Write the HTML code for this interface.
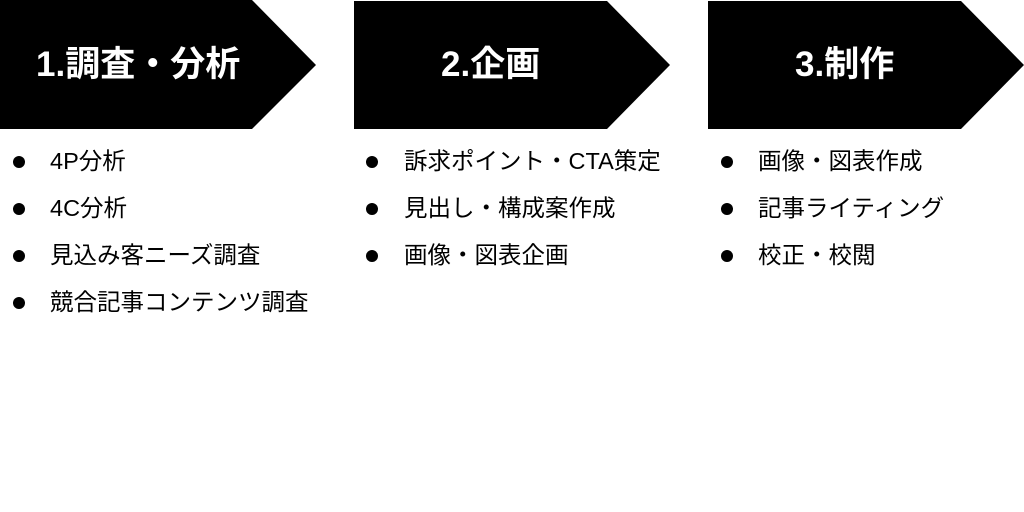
<!DOCTYPE html>
<html><head><meta charset="utf-8"><style>
body{margin:0;width:1024px;height:512px;background:#fff;overflow:hidden;position:relative;font-family:"Liberation Sans","Noto Sans CJK JP",sans-serif}
.t{position:absolute;color:#fff;font-weight:bold;font-size:35px;line-height:1;top:47px}
.li{position:absolute;font-size:23.5px;line-height:1;color:#000;white-space:nowrap}
.b{position:absolute;width:12px;height:12px;border-radius:50%;background:#000}
</style></head><body>
<svg width="1024" height="512" style="position:absolute;left:0;top:0">
<polygon points="0,0 252,0 316,65 252,129 0,129" fill="#000"/>
<polygon points="354,1 607,1 670,65 607,129 354,129" fill="#000"/>
<polygon points="708,1 961,1 1024,65 961,129 708,129" fill="#000"/>
</svg>
<div class="t" style="left:36px">1.調査・分析</div>
<div class="t" style="left:441px">2.企画</div>
<div class="t" style="left:795px">3.制作</div>

<div class="b" style="left:13px;top:156px"></div><div class="li" style="left:50px;top:150px">4P分析</div>
<div class="b" style="left:13px;top:203px"></div><div class="li" style="left:50px;top:197px">4C分析</div>
<div class="b" style="left:13px;top:250px"></div><div class="li" style="left:50px;top:244px">見込み客ニーズ調査</div>
<div class="b" style="left:13px;top:297px"></div><div class="li" style="left:50px;top:291px">競合記事コンテンツ調査</div>

<div class="b" style="left:366px;top:156px"></div><div class="li" style="left:404px;top:150px">訴求ポイント・CTA策定</div>
<div class="b" style="left:366px;top:203px"></div><div class="li" style="left:404px;top:197px">見出し・構成案作成</div>
<div class="b" style="left:366px;top:250px"></div><div class="li" style="left:404px;top:244px">画像・図表企画</div>

<div class="b" style="left:721px;top:156px"></div><div class="li" style="left:758px;top:150px">画像・図表作成</div>
<div class="b" style="left:721px;top:203px"></div><div class="li" style="left:758px;top:197px">記事ライティング</div>
<div class="b" style="left:721px;top:250px"></div><div class="li" style="left:758px;top:244px">校正・校閲</div>
</body></html>
